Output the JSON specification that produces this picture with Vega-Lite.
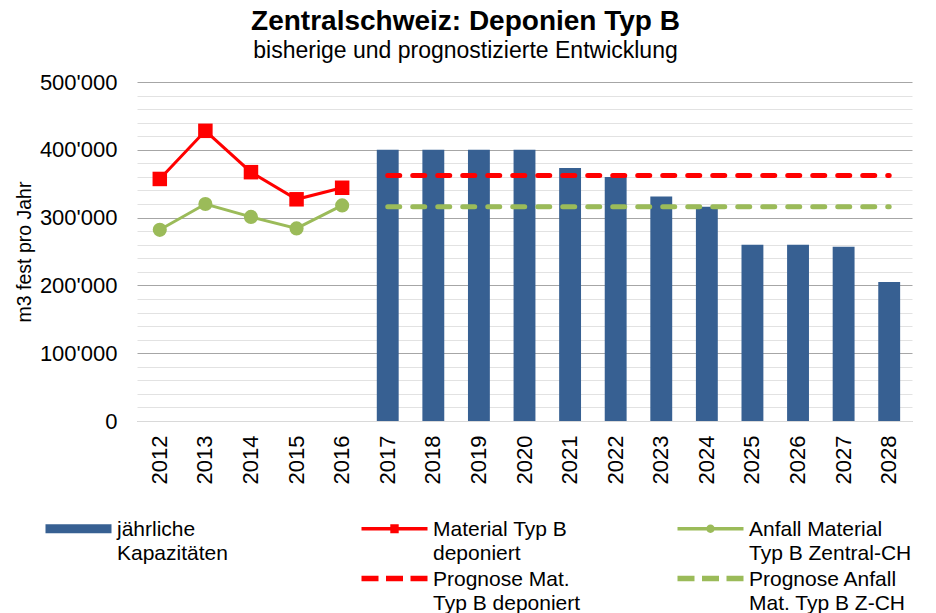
{
  "$schema": "https://vega.github.io/schema/vega-lite/v6.json",
  "width": 775,
  "height": 339,
  "autosize": "none",
  "padding": {"left": 137, "top": 82, "right": 24, "bottom": 192},
  "background": "white",
  "config": {"font": "Liberation Sans", "view": {"stroke": null}},
  "title": {
    "text": "Zentralschweiz: Deponien Typ B",
    "subtitle": "bisherige und prognostizierte Entwicklung",
    "font": "Liberation Sans",
    "fontSize": 28,
    "fontWeight": "bold",
    "color": "black",
    "subtitleFont": "Liberation Sans",
    "subtitleFontSize": 23,
    "subtitleColor": "black",
    "anchor": "middle",
    "frame": "group",
    "dx": -59,
    "offset": 8,
    "subtitlePadding": 4
  },
  "data": {
    "values": [
      {"year": "2017", "series": "jährliche Kapazitäten", "value": 400000},
      {"year": "2018", "series": "jährliche Kapazitäten", "value": 400000},
      {"year": "2019", "series": "jährliche Kapazitäten", "value": 400000},
      {"year": "2020", "series": "jährliche Kapazitäten", "value": 400000},
      {"year": "2021", "series": "jährliche Kapazitäten", "value": 373000},
      {"year": "2022", "series": "jährliche Kapazitäten", "value": 360000},
      {"year": "2023", "series": "jährliche Kapazitäten", "value": 331000},
      {"year": "2024", "series": "jährliche Kapazitäten", "value": 316000},
      {"year": "2025", "series": "jährliche Kapazitäten", "value": 260000},
      {"year": "2026", "series": "jährliche Kapazitäten", "value": 260000},
      {"year": "2027", "series": "jährliche Kapazitäten", "value": 257000},
      {"year": "2028", "series": "jährliche Kapazitäten", "value": 205000},
      {"year": "2012", "series": "Material Typ B deponiert", "value": 357000},
      {"year": "2013", "series": "Material Typ B deponiert", "value": 428000},
      {"year": "2014", "series": "Material Typ B deponiert", "value": 367000},
      {"year": "2015", "series": "Material Typ B deponiert", "value": 327000},
      {"year": "2016", "series": "Material Typ B deponiert", "value": 344000},
      {"year": "2012", "series": "Anfall Material Typ B Zentral-CH", "value": 282000},
      {"year": "2013", "series": "Anfall Material Typ B Zentral-CH", "value": 320000},
      {"year": "2014", "series": "Anfall Material Typ B Zentral-CH", "value": 301000},
      {"year": "2015", "series": "Anfall Material Typ B Zentral-CH", "value": 284000},
      {"year": "2016", "series": "Anfall Material Typ B Zentral-CH", "value": 318000},
      {"year": "2017", "series": "Prognose Mat. Typ B deponiert", "value": 362000},
      {"year": "2018", "series": "Prognose Mat. Typ B deponiert", "value": 362000},
      {"year": "2019", "series": "Prognose Mat. Typ B deponiert", "value": 362000},
      {"year": "2020", "series": "Prognose Mat. Typ B deponiert", "value": 362000},
      {"year": "2021", "series": "Prognose Mat. Typ B deponiert", "value": 362000},
      {"year": "2022", "series": "Prognose Mat. Typ B deponiert", "value": 362000},
      {"year": "2023", "series": "Prognose Mat. Typ B deponiert", "value": 362000},
      {"year": "2024", "series": "Prognose Mat. Typ B deponiert", "value": 362000},
      {"year": "2025", "series": "Prognose Mat. Typ B deponiert", "value": 362000},
      {"year": "2026", "series": "Prognose Mat. Typ B deponiert", "value": 362000},
      {"year": "2027", "series": "Prognose Mat. Typ B deponiert", "value": 362000},
      {"year": "2028", "series": "Prognose Mat. Typ B deponiert", "value": 362000},
      {"year": "2017", "series": "Prognose Anfall Mat. Typ B Z-CH", "value": 316000},
      {"year": "2018", "series": "Prognose Anfall Mat. Typ B Z-CH", "value": 316000},
      {"year": "2019", "series": "Prognose Anfall Mat. Typ B Z-CH", "value": 316000},
      {"year": "2020", "series": "Prognose Anfall Mat. Typ B Z-CH", "value": 316000},
      {"year": "2021", "series": "Prognose Anfall Mat. Typ B Z-CH", "value": 316000},
      {"year": "2022", "series": "Prognose Anfall Mat. Typ B Z-CH", "value": 316000},
      {"year": "2023", "series": "Prognose Anfall Mat. Typ B Z-CH", "value": 316000},
      {"year": "2024", "series": "Prognose Anfall Mat. Typ B Z-CH", "value": 316000},
      {"year": "2025", "series": "Prognose Anfall Mat. Typ B Z-CH", "value": 316000},
      {"year": "2026", "series": "Prognose Anfall Mat. Typ B Z-CH", "value": 316000},
      {"year": "2027", "series": "Prognose Anfall Mat. Typ B Z-CH", "value": 316000},
      {"year": "2028", "series": "Prognose Anfall Mat. Typ B Z-CH", "value": 316000}
    ]
  },
  "encoding": {
    "x": {
      "field": "year",
      "type": "ordinal",
      "scale": {
        "type": "band",
        "domain": ["2012","2013","2014","2015","2016","2017","2018","2019","2020","2021","2022","2023","2024","2025","2026","2027","2028"],
        "paddingInner": 0,
        "paddingOuter": 0
      },
      "axis": {
        "title": null,
        "labelAngle": -90,
        "labelFont": "Liberation Sans",
        "labelFontSize": 22,
        "labelColor": "black",
        "ticks": false,
        "tickSize": 0,
        "labelPadding": 14,
        "domainColor": "#d9d9d9",
        "domainWidth": 1,
        "grid": false
      }
    },
    "color": {
      "field": "series",
      "type": "nominal",
      "scale": {
        "domain": ["jährliche Kapazitäten", " ", "Material Typ B deponiert", "Prognose Mat. Typ B deponiert", "Anfall Material Typ B Zentral-CH", "Prognose Anfall Mat. Typ B Z-CH"],
        "range": ["#376092", "transparent", "#FF0000", "#FF0000", "#9BBB59", "#9BBB59"]
      },
      "legend": {
        "orient": "none",
        "legendX": -92,
        "legendY": 436,
        "padding": 0,
        "title": null,
        "columns": 3,
        "gridAlign": "all",
        "columnPadding": 81,
        "rowPadding": 4,
        "symbolSize": 400,
        "symbolOffset": 23,
        "labelOffset": 28,
        "labelFont": "Liberation Sans",
        "labelFontSize": 21,
        "labelColor": "black",
        "labelBaseline": "top",
        "labelLimit": 400,
        "labelExpr": "datum.label == 'jährliche Kapazitäten' ? ['jährliche', 'Kapazitäten'] : datum.label == 'Material Typ B deponiert' ? ['Material Typ B', 'deponiert'] : datum.label == 'Anfall Material Typ B Zentral-CH' ? ['Anfall Material', 'Typ B Zentral-CH'] : datum.label == 'Prognose Mat. Typ B deponiert' ? ['Prognose Mat.', 'Typ B deponiert'] : datum.label == 'Prognose Anfall Mat. Typ B Z-CH' ? ['Prognose Anfall', 'Mat. Typ B Z-CH'] : ''",
        "encode": {
          "symbols": {
            "update": {
              "shape": {"signal": "datum.value == 'jährliche Kapazitäten' ? 'M-3.3,-0.45H3.3V0.45H-3.3Z' : datum.value == 'Material Typ B deponiert' ? 'M-3.3,-0.17H3.3V0.17H-3.3Z M-0.42,-0.45H0.42V0.45H-0.42Z' : datum.value == 'Anfall Material Typ B Zentral-CH' ? 'M-3.3,-0.17H3.3V0.17H-3.3Z M-0.42,0A0.42,0.42,0,1,1,0.42,0A0.42,0.42,0,1,1,-0.42,0Z' : datum.value == ' ' ? 'M0,0Z' : 'M-3.3,-0.28H-1.6V0.28H-3.3Z M-0.85,-0.28H0.85V0.28H-0.85Z M1.6,-0.28H3.3V0.28H1.6Z'"},
              "fill": {"scale": "color", "field": "value"},
              "stroke": {"value": "transparent"},
              "strokeWidth": {"value": 0},
              "opacity": {"value": 1}
            }
          },
          "labels": {
            "update": {
              "lineHeight": {"value": 24},
              "dy": {"value": -10}
            }
          }
        }
      }
    }
  },
  "layer": [
    {
      "transform": [{"filter": "datum.series == 'jährliche Kapazitäten'"}],
      "mark": {"type": "bar", "width": {"band": 0.48}},
      "encoding": {
        "y": {
          "field": "value",
          "type": "quantitative",
          "scale": {"domain": [0, 500000], "nice": false},
          "axis": {
            "orient": "right",
            "values": [20000, 40000, 60000, 80000, 120000, 140000, 160000, 180000, 220000, 240000, 260000, 280000, 320000, 340000, 360000, 380000, 420000, 440000, 460000, 480000],
            "grid": true,
            "gridColor": "#e2e2e2",
            "gridWidth": 1,
            "labels": false,
            "ticks": false,
            "domain": false,
            "title": null
          }
        }
      }
    },
    {
      "encoding": {
        "y": {
          "field": "value",
          "type": "quantitative",
          "scale": {"domain": [0, 500000], "nice": false},
          "axis": {
            "orient": "left",
            "values": [0, 100000, 200000, 300000, 400000, 500000],
            "grid": true,
            "gridColor": "#a6a6a6",
            "gridWidth": 1,
            "domain": false,
            "ticks": false,
            "tickSize": 0,
            "labelPadding": 20,
            "labelFont": "Liberation Sans",
            "labelFontSize": 22,
            "labelColor": "black",
            "labelExpr": "replace(format(datum.value, ','), ',', \"'\")",
            "title": "m3 fest pro Jahr",
            "titleFont": "Liberation Sans",
            "titleFontSize": 19.5,
            "titleFontWeight": "normal",
            "titleColor": "black",
            "titlePadding": 5
          }
        }
      },
      "layer": [
        {
          "transform": [{"filter": "datum.series == 'Prognose Mat. Typ B deponiert'"}],
          "mark": {"type": "line", "strokeWidth": 5, "strokeDash": [12, 13], "strokeCap": "round"}
        },
        {
          "transform": [{"filter": "datum.series == 'Prognose Anfall Mat. Typ B Z-CH'"}],
          "mark": {"type": "line", "strokeWidth": 5, "strokeDash": [12, 13], "strokeCap": "round"}
        },
        {
          "transform": [{"filter": "datum.series == 'Material Typ B deponiert'"}],
          "mark": {"type": "line", "strokeWidth": 3, "point": {"shape": "square", "size": 210, "filled": true, "opacity": 1}}
        },
        {
          "transform": [{"filter": "datum.series == 'Anfall Material Typ B Zentral-CH'"}],
          "mark": {"type": "line", "strokeWidth": 3, "point": {"shape": "circle", "size": 200, "filled": true, "opacity": 1}}
        }
      ]
    }
  ],
  "resolve": {"axis": {"y": "independent"}}
}
